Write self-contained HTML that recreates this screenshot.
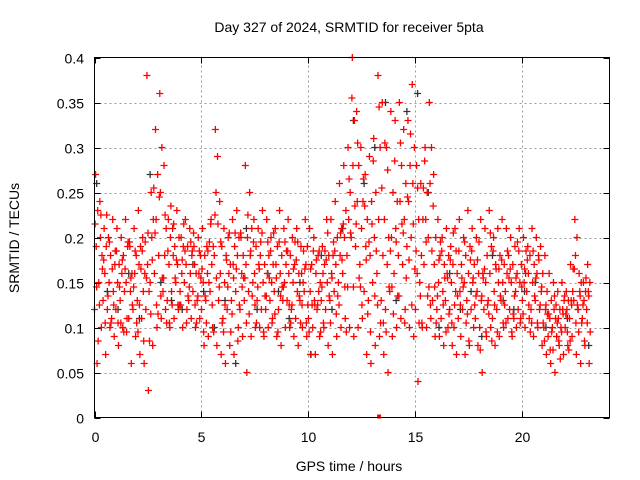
<!DOCTYPE html>
<html><head><meta charset="utf-8">
<style>
body{margin:0;background:#fff;}
svg{display:block;font-family:"Liberation Sans",sans-serif;}
</style></head>
<body>
<svg id="chart" width="640" height="480" viewBox="0 0 640 480">
<rect x="0" y="0" width="640" height="480" fill="#fff"/>
<g id="grid"></g>
<g id="pts"></g>
<rect x="94.5" y="57.5" width="515" height="360" fill="none" stroke="#000" stroke-width="1"/>
<g id="ticks"></g>
<text x="349" y="32" text-anchor="middle" font-size="14">Day 327 of 2024, SRMTID for receiver 5pta</text>
<text x="349" y="471" text-anchor="middle" font-size="14">GPS time / hours</text>
<text transform="translate(19,238) rotate(-90)" text-anchor="middle" font-size="14">SRMTID / TECUs</text>
</svg>
<script>
const xTicks=[0,5,10,15,20];
const yTicks=[0,0.05,0.1,0.15,0.2,0.25,0.3,0.35,0.4];
const yTickLabels=["0","0.05","0.1","0.15","0.2","0.25","0.3","0.35","0.4"];
const timeStep=0.2;
const seriesHigh=[.27,.24,.21,.20,.22,.21,.20,.22,.19,.21,.23,.20,.38,.25,.32,.36,.28,.22,.21,.23,.20,.22,.21,.19,.20,.21,.19,.22,.32,.24,.21,.20,.22,.23,.20,.28,.25,.22,.21,.23,.22,.20,.21,.23,.21,.22,.20,.21,.19,.22,.21,.20,.18,.19,.22,.22,.24,.26,.28,.30,.40,.34,.30,.27,.29,.31,.38,.35,.30,.34,.33,.35,.32,.33,.37,.28,.26,.30,.35,.27,.22,.20,.21,.19,.21,.22,.20,.23,.21,.20,.22,.21,.23,.20,.21,.22,.21,.20,.19,.21,.20,.19,.21,.20,.19,.18,.16,.15,.14,.15,.14,.17,.22,.16,.15,.17];
const seriesLow=[.06,.10,.07,.10,.09,.08,.10,.11,.06,.09,.07,.06,.03,.08,.10,.11,.12,.10,.11,.12,.10,.12,.11,.10,.11,.08,.09,.10,.08,.07,.06,.08,.07,.10,.09,.05,.09,.10,.10,.09,.10,.11,.09,.08,.10,.10,.09,.08,.10,.09,.07,.07,.09,.10,.08,.07,.09,.10,.11,.10,.09,.10,.11,.07,.06,.08,.09,.07,.05,.09,.10,.11,.12,.10,.09,.04,.10,.10,.11,.09,.09,.08,.10,.08,.07,.09,.07,.08,.10,.08,.05,.09,.10,.08,.09,.10,.11,.09,.10,.11,.10,.11,.09,.10,.08,.07,.06,.05,.08,.07,.08,.09,.07,.06,.08,.06];
const seriesMid1=[.12,.15,.13,.12,.11,.12,.13,.14,.11,.12,.13,.11,.12,.15,.16,.18,.14,.13,.14,.15,.14,.15,.13,.14,.13,.12,.13,.14,.18,.13,.11,.12,.13,.14,.12,.13,.14,.15,.13,.12,.12,.13,.14,.12,.13,.13,.12,.11,.13,.14,.11,.10,.12,.13,.12,.13,.14,.15,.16,.18,.20,.19,.17,.14,.13,.15,.16,.13,.12,.14,.16,.18,.17,.19,.20,.12,.15,.17,.20,.13,.12,.11,.13,.12,.10,.11,.12,.13,.12,.11,.10,.12,.13,.11,.12,.13,.14,.12,.11,.12,.13,.14,.12,.13,.12,.10,.09,.10,.09,.10,.10,.11,.13,.12,.11,.12];
const seriesMid2=[.19,.20,.16,.15,.14,.15,.16,.15,.14,.16,.17,.14,.17,.20,.22,.25,.18,.17,.18,.17,.16,.17,.16,.17,.16,.15,.16,.17,.25,.16,.15,.16,.17,.18,.16,.17,.18,.16,.17,.15,.16,.15,.17,.16,.15,.16,.15,.14,.16,.17,.14,.13,.14,.16,.15,.16,.17,.18,.20,.22,.28,.24,.21,.19,.18,.20,.22,.18,.17,.20,.21,.24,.22,.24,.26,.16,.18,.22,.26,.17,.15,.14,.16,.15,.14,.14,.15,.16,.15,.14,.13,.15,.16,.14,.15,.15,.16,.15,.14,.15,.15,.16,.15,.16,.14,.12,.11,.12,.11,.12,.12,.13,.18,.14,.13,.14];
const seriesMid3=[.23,.18,.19,.18,.17,.17,.18,.19,.16,.18,.19,.16,.14,.22,.27,.30,.21,.20,.19,.20,.19,.19,.18,.16,.18,.18,.15,.19,.29,.19,.18,.17,.19,.20,.18,.20,.21,.19,.18,.17,.18,.17,.19,.18,.17,.18,.17,.16,.15,.19,.17,.16,.15,.17,.18,.18,.20,.21,.23,.25,.33,.28,.24,.22,.24,.25,.30,.22,.20,.25,.24,.28,.26,.28,.30,.22,.22,.25,.30,.20,.18,.17,.18,.17,.16,.17,.18,.19,.17,.16,.16,.18,.19,.17,.18,.17,.18,.17,.16,.17,.16,.18,.17,.18,.16,.14,.13,.11,.12,.13,.13,.14,.20,.15,.14,.15];
const seriesMid4=[.215,.125,.175,.135,.165,.185,.105,.165,.195,.145,.095,.185,.155,.115,.205,.245,.155,.185,.125,.175,.125,.185,.145,.205,.135,.165,.105,.215,.225,.145,.095,.145,.115,.165,.205,.155,.115,.195,.145,.205,.135,.185,.115,.195,.145,.185,.125,.175,.105,.165,.095,.185,.125,.145,.175,.105,.185,.125,.215,.145,.355,.215,.145,.235,.195,.285,.125,.255,.095,.185,.285,.135,.205,.245,.125,.185,.135,.285,.145,.235,.135,.185,.095,.175,.125,.185,.145,.115,.185,.135,.075,.165,.115,.185,.095,.175,.105,.165,.135,.185,.115,.175,.105,.155,.125,.085,.115,.075,.105,.095,.115,.085,.165,.095,.125,.105];
const seriesMid5=[.145,.225,.105,.195,.125,.105,.175,.095,.155,.185,.125,.085,.205,.175,.125,.135,.225,.105,.215,.125,.175,.105,.195,.125,.185,.095,.185,.125,.155,.195,.125,.205,.155,.085,.145,.105,.185,.125,.165,.095,.195,.105,.155,.135,.195,.125,.165,.195,.125,.105,.165,.125,.185,.105,.205,.155,.115,.205,.145,.265,.145,.305,.125,.175,.095,.135,.345,.105,.275,.145,.195,.305,.105,.175,.215,.255,.105,.195,.125,.145,.175,.125,.155,.105,.185,.125,.195,.085,.155,.175,.135,.095,.205,.125,.165,.105,.185,.095,.155,.105,.165,.125,.185,.105,.145,.125,.075,.135,.085,.115,.095,.125,.105,.135,.085,.135];
const seriesMid6=[.085,.165,.225,.105,.185,.145,.095,.195,.125,.105,.165,.195,.085,.255,.115,.155,.105,.235,.155,.125,.215,.135,.185,.105,.155,.135,.195,.095,.215,.105,.175,.095,.205,.125,.155,.225,.135,.105,.195,.135,.155,.205,.095,.145,.185,.105,.195,.135,.185,.125,.125,.175,.095,.185,.135,.195,.135,.175,.095,.205,.235,.155,.265,.115,.215,.185,.105,.305,.145,.115,.135,.215,.155,.315,.165,.105,.255,.135,.185,.105,.195,.155,.115,.205,.135,.155,.105,.175,.125,.195,.155,.125,.085,.165,.135,.125,.155,.115,.195,.145,.185,.095,.135,.175,.105,.115,.095,.125,.065,.135,.075,.165,.125,.105,.155,.095];
const blackStep=0.5;
const seriesBlack=[.26,.14,.12,.16,.11,.27,.15,.13,.12,.17,.14,.10,.13,.06,.21,.12,.16,.14,.11,.15,.07,.18,.12,.21,.33,.26,.30,.35,.13,.34,.36,.25,.10,.16,.12,.14,.09,.18,.13,.12,.14,.15,.10,.09,.11,.12,.08];

const X0=94.5,X1=609.5,Y0=417.5,Y1=57.5,XMAX=24.07,YMAX=0.4;
const xs=v=>X0+v/XMAX*(X1-X0);
const ys=v=>Y0-v/YMAX*(Y0-Y1);
const NS="http://www.w3.org/2000/svg";
const grid=document.getElementById('grid'),ticks=document.getElementById('ticks'),pts=document.getElementById('pts');
function line(p,x1,y1,x2,y2,st,dash){const l=document.createElementNS(NS,'line');l.setAttribute('x1',x1);l.setAttribute('y1',y1);l.setAttribute('x2',x2);l.setAttribute('y2',y2);l.setAttribute('stroke',st);if(dash)l.setAttribute('stroke-dasharray',dash);p.appendChild(l);return l;}
function txt(p,x,y,s,anc){const t=document.createElementNS(NS,'text');t.setAttribute('x',x);t.setAttribute('y',y);t.setAttribute('text-anchor',anc);t.setAttribute('font-size','14');t.textContent=s;p.appendChild(t);return t;}
xTicks.forEach(v=>{const x=Math.round(xs(v))+0.5;
 if(v>0){const g=line(grid,x,Y0,x,Y1,'#999','2,3');
 
 }
 const a=line(ticks,x,Y0,x,Y0-6,'#000');
 const b=line(ticks,x,Y1,x,Y1+6,'#000');
 const t=txt(ticks,x,442,String(v),'middle');
 
 });
yTicks.forEach((v,i)=>{const y=Math.round(ys(v))+0.5;
 if(v>0&&v<YMAX){const g=line(grid,X0,y,X1,y,'#999','2,3');
 
 }
 const a=line(ticks,X0,y,X0+6,y,'#000');
 const b=line(ticks,X1,y,X1-6,y,'#000');
 const t=txt(ticks,84,y+5,yTickLabels[i],'end');
 
 });
function plus(x,y,col,name){const p=document.createElementNS(NS,'path');
 p.setAttribute('d',`M${x-3.5},${y}h7M${x},${y-3.5}v7`);p.setAttribute('stroke',col);p.setAttribute('stroke-width','1.3');
 
 
 pts.appendChild(p);}
seriesBlack.forEach((v,i)=>plus(xs(i*blackStep+0.1),ys(v),'#333','black-point'));
const reds=[seriesHigh,seriesLow,seriesMid1,seriesMid2,seriesMid3,seriesMid4,seriesMid5,seriesMid6];
const offs=[0.05,0.12,0.0,0.08,0.15,0.03,0.1,0.17];
reds.forEach((arr,k)=>arr.forEach((v,i)=>plus(xs(i*timeStep+offs[k]),ys(v),'#f00','red-point')));
const sq=document.createElementNS(NS,'rect');sq.setAttribute('x',xs(13.3)-2);sq.setAttribute('y',Y0-3);sq.setAttribute('width',4);sq.setAttribute('height',4);sq.setAttribute('fill','#f00');


pts.appendChild(sq);
</script>
</body></html>
